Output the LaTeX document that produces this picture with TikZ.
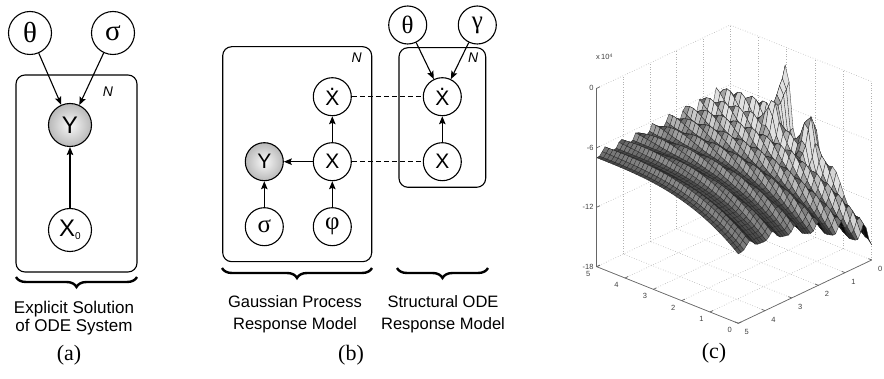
\documentclass[tikz,border=0pt]{standalone}
\usepackage{fontspec}
\setmainfont{Liberation Serif}
\setsansfont{Liberation Sans}
\usetikzlibrary{arrows.meta,decorations.pathreplacing}

\newcommand\dotX{\makebox[0pt][l]{\makebox[0.667em][c]{\raisebox{0.72em}{.}}}X}

\tikzset{
  var/.style={circle, draw, line width=1.1pt, minimum size=43pt, inner sep=0pt, fill=white,
    font=\sffamily\fontsize{24}{24}\selectfont},
  varb/.style={var, minimum size=38pt, font=\sffamily\fontsize{21}{21}\selectfont},
  grk/.style={font=\rmfamily\fontsize{29}{29}\selectfont},
  grkb/.style={font=\rmfamily\fontsize{25}{25}\selectfont},
  obs/.style={shade, inner color=gray!5, outer color=gray!55},
  plate/.style={draw, line width=1.1pt, rounded corners=9pt},
  arr/.style={-{Stealth[length=8pt,width=6.5pt,inset=1.5pt]}, line width=1.1pt},
  linkd/.style={dash pattern=on 5pt off 3pt, line width=1.4pt},
  brc/.style={decorate, decoration={brace, amplitude=10pt}, line width=2.4pt},
  lbl/.style={font=\sffamily\fontsize{16.5}{20}\selectfont, align=center},
  captxt/.style={font=\rmfamily\fontsize{22}{22}\selectfont},
  plab/.style={font=\sffamily\itshape\fontsize{14}{14}\selectfont},
  gridl/.style={gray!60, dotted, line width=0.6pt},
  axl/.style={black!60, line width=0.7pt},
  ticklbl/.style={font=\sffamily\fontsize{7.5}{7.5}\selectfont, text=black!75, inner sep=0pt},
}

\newcommand\zcalc[2]{%
  \pgfmathsetmacro\zu{#1/5}%
  \pgfmathsetmacro\zv{#2/5}%
  \pgfmathsetmacro\zw{\zv*sqrt(\zv)}%
  \pgfmathsetmacro\zone{1-\zu}%
  \pgfmathsetmacro\zbase{(7+4*(1-\zone*\zone*\zone))*(1-\zw)+(1.5+9*(1-\zone*\zone))*\zw+0.8*sin(180*\zv)*\zone}%
  \pgfmathsetmacro\zs{#2*(1-0.3*\zone)}%
  \pgfmathsetmacro\zr{0.5+0.5*cos(600*\zs+180)}%
  \pgfmathsetmacro\zr{(0.7+1.4*\zv*\zv)*\zr*\zr*\zr}%
  \pgfmathsetmacro\zp{6.5*exp(max(-20,-((#1-3)*(#1-3)/0.03+(#2-5)*(#2-5)/0.3)))+4*exp(max(-20,-((#1-2)*(#1-2)/0.03+(#2-5)*(#2-5)/0.3)))}%
  \pgfmathsetmacro\zres{\zbase+\zr+\zp}%
}

\begin{document}
\begin{tikzpicture}[x=1pt,y=-1pt]
\useasboundingbox (0,0) rectangle (884,379);
\fill[white] (0,0) rectangle (884,379);

% ---------------- (a) ----------------
\draw[plate] (16,75) rectangle (137,272);
\node[plab] (na) at (108,92) {N};
\node[var,grk] (ta) at (30,33) {θ};
\node[var,grk] (sa) at (113,33) {σ};
\node[var,obs] (ya) at (70,125) {Y};
\node[var] (x0) at (70,230) {X\raisebox{-0.25ex}{\fontsize{10}{10}\selectfont 0}};
\draw[arr] (ta) -- (ya);
\draw[arr] (sa) -- (ya);
\draw[arr] (x0) -- (ya);
\draw[brc] (137,277) -- (16,277);
\node[lbl,font=\sffamily\fontsize{17}{18.4}\selectfont] (la) at (74,318) {Explicit Solution\\of ODE System};
\node[captxt] (ca) at (69,355) {(a)};

% ---------------- (b) ----------------
\draw[plate] (222.7,46.7) rectangle (371.7,261.7);
\draw[plate] (399,47.7) rectangle (485.7,187.3);
\node[plab] (n1) at (356.7,58) {N};
\node[plab] (n2) at (473.3,58) {N};
\node[varb] (xd1) at (332.3,96.7) {\dotX};
\node[varb] (x1) at (332.3,161.7) {X};
\node[varb,obs] (yb) at (264.3,161.7) {Y};
\node[varb,grkb] (sb) at (264.3,226.7) {σ};
\node[varb,grkb] (pb) at (332.3,226.7) {φ};
\node[varb] (xd2) at (442.3,96.7) {\dotX};
\node[varb] (x2) at (442.3,161.7) {X};
\node[varb,grkb] (tb) at (407.7,25) {θ};
\node[varb,grkb] (gb) at (477.3,25) {γ};
\draw[arr] (x1) -- (xd1);
\draw[arr] (x1) -- (yb);
\draw[arr] (sb) -- (yb);
\draw[arr] (pb) -- (x1);
\draw[arr] (x2) -- (xd2);
\draw[arr] (tb) -- (xd2);
\draw[arr] (gb) -- (xd2);
\draw[linkd] (xd1) -- (xd2);
\draw[linkd] (x1) -- (x2);
\draw[brc] (372,268) -- (222,268);
\draw[brc] (488,268) -- (397,268);
\node[lbl,font=\sffamily\fontsize{16.5}{21.6}\selectfont] (lb1) at (295,314) {Gaussian Process\\Response Model};
\node[lbl,font=\sffamily\fontsize{16.5}{21.6}\selectfont] (lb2) at (443,314) {Structural ODE\\Response Model};
\node[captxt] (cb) at (351,355) {(b)};

% ---------------- (c) ----------------
\node[captxt] (cc) at (714,353) {(c)};
\node[ticklbl,anchor=west] (mult) at (596,57) {x\,10\raisebox{0.6ex}{\fontsize{5}{5}\selectfont 4}};

\begin{scope}[shift={(738.3pt,-323.3pt)}, x={(-28.32pt,11.32pt)}, y={(26.68pt,12.66pt)}, z={(0pt,9.911pt)}]
  % grid
  \foreach \k in {0,...,5} {
    \draw[gridl] (\k,0,0) -- (\k,5,0);
    \draw[gridl] (0,\k,0) -- (5,\k,0);
  }
  \foreach \k in {1,...,5} \draw[gridl] (5,\k,0) -- (5,\k,18);
  \foreach \k in {0,...,4} \draw[gridl] (\k,5,0) -- (\k,5,18);
  \foreach \h in {6,12,18} \draw[gridl] (5,0,\h) -- (5,5,\h) -- (0,5,\h);

  % surface heights
  \foreach \i in {0,...,36} {
    \foreach \j in {0,...,48} {
      \pgfmathsetmacro\aa{\i/7.2}%
      \pgfmathsetmacro\cc{\j/9.6}%
      \zcalc{\aa}{\cc}%
      \expandafter\xdef\csname zz@\i @\j\endcsname{\zres}%
    }
  }
  % surface
  \foreach \i in {36,...,1} {
    \pgfmathtruncatemacro\ip{\i-1}
    \foreach \j in {48,...,1} {
      \pgfmathtruncatemacro\jp{\j-1}%
      \edef\qa{\csname zz@\ip @\jp\endcsname}%
      \edef\qb{\csname zz@\i @\jp\endcsname}%
      \edef\qc{\csname zz@\i @\j\endcsname}%
      \edef\qd{\csname zz@\ip @\j\endcsname}%
      \pgfmathtruncatemacro\gl{min(88,max(4,22+5*(3.6*(\qb+\qc-\qa-\qd)+4.8*(\qc+\qd-\qa-\qb))+0.5*(\qa+\qb+\qc+\qd-32)))}%
      \filldraw[draw=black!85, line width=0.3pt, fill=white!\gl!black]
        (\ip/7.2,\jp/9.6,\qa) -- (\i/7.2,\jp/9.6,\qb) -- (\i/7.2,\j/9.6,\qc) -- (\ip/7.2,\j/9.6,\qd) -- cycle;
    }
  }

  % axes
  \draw[axl] (5,0,0) -- (5,0,18);
  \draw[axl] (5,0,0) -- (0,0,0) -- (0,5,0);
  \foreach \h/\t in {0/-18,6/-12,12/-6,18/0} {
    \draw[axl] (5,0,\h) -- (5,0.12,\h);
    \node[ticklbl,anchor=east] (zt\h) at ([xshift=-3pt]5,0,\h) {\t};
  }
  \foreach \k in {0,...,5} {
    \draw[axl] (\k,0,0) -- (\k,0.12,0);
    \draw[axl] (0,\k,0) -- (0.12,\k,0);
    \node[ticklbl] (at\k) at ([xshift=-8.5pt,yshift=-7pt]\k,0,0) {\k};
    \pgfmathtruncatemacro\vv{5-\k}
    \node[ticklbl] (ct\k) at ([xshift=8.5pt,yshift=-9pt]0,\k,0) {\vv};
  }
\end{scope}
\end{tikzpicture}
\end{document}
